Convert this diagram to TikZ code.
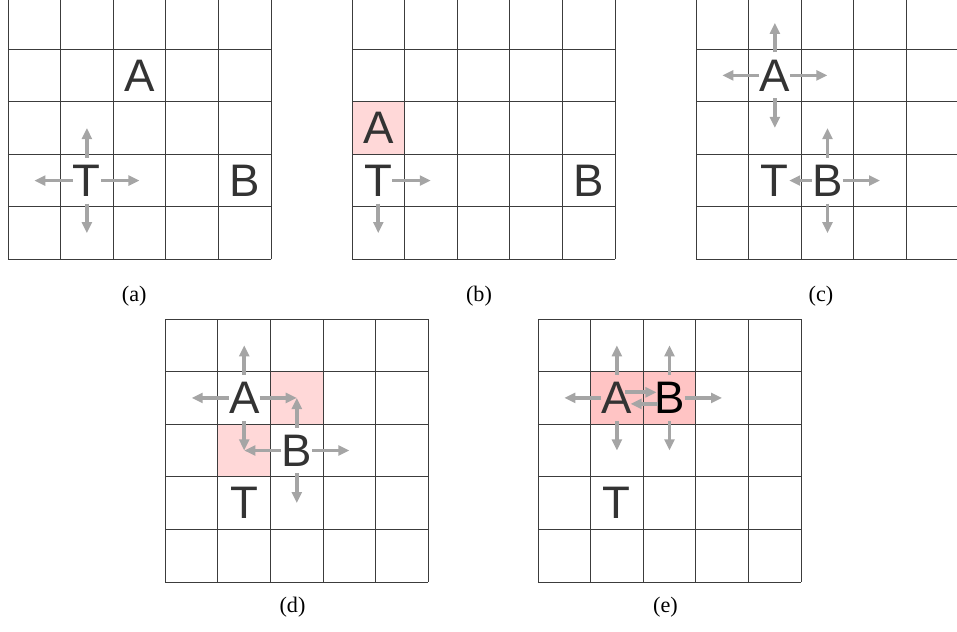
\documentclass[tikz,border=0pt]{standalone}
\usepackage{fontspec}
\setmainfont{Liberation Serif}
\newfontfamily\agentfont{Liberation Sans}
\usetikzlibrary{arrows.meta}

\definecolor{cellpink}{RGB}{255,216,216}
\definecolor{cellpinkdeep}{RGB}{255,196,196}
\definecolor{movegray}{RGB}{165,165,165}
\definecolor{agentgray}{RGB}{51,51,51}
\definecolor{gridgray}{RGB}{60,60,60}

\tikzset{
  gridline/.style={gridgray, line width=0.7pt, step=1.5cm},
  agent/.style={text=agentgray, inner xsep=0pt, inner ysep=0.2cm,
    font=\agentfont\fontsize{37}{40}\selectfont},
  move/.style={movegray, line width=3pt, -{Triangle[length=9pt,width=8pt]}},
  caption/.style={font=\fontsize{18}{21}\selectfont}
}

\begin{document}
\begin{tikzpicture}[x=1.5cm, y=1.5cm]
    \useasboundingbox (0,0) rectangle (18.194,-12.015);
    \clip (0,0) rectangle (18.194,-12.015);

    % (a) T looks around
    \begin{scope}[shift={(0.152,0.067)}]
        \draw[gridline] (0,0) grid (5,-5);
        \node[agent] (aA) at (2.5,-1.5) {A};
        \node[agent] (aT) at (1.5,-3.5) {T};
        \node[agent] (aB) at (4.5,-3.5) {B};
        % moves of T
        \coordinate (aTup) at (1.5,-2.5);
        \coordinate (aTleft) at (0.5,-3.5);
        \coordinate (aTright) at (2.5,-3.5);
        \coordinate (aTdown) at (1.5,-4.5);
        \draw[move] (aT) -- (aTup);
        \draw[move] (aT) -- (aTleft);
        \draw[move] (aT) -- (aTright);
        \draw[move] (aT) -- (aTdown);
        \node[caption] (acap) at (2.4,-5.694) {(a)};
    \end{scope}

    % (b) A next to T
    \begin{scope}[shift={(6.692,0.067)}]
        \fill[cellpink] (0,-2) rectangle (1,-3);
        \draw[gridline] (0,0) grid (5,-5);
        \node[agent] (bA) at (0.5,-2.5) {A};
        \node[agent] (bT) at (0.5,-3.5) {T};
        \node[agent] (bB) at (4.5,-3.5) {B};
        % moves of T
        \coordinate (bTright) at (1.5,-3.5);
        \coordinate (bTdown) at (0.5,-4.5);
        \draw[move] (bT) -- (bTright);
        \draw[move] (bT) -- (bTdown);
        \node[caption] (bcap) at (2.414,-5.694) {(b)};
    \end{scope}

    % (c) A and B look around
    \begin{scope}[shift={(13.232,0.067)}]
        \draw[gridline] (0,0) grid (5,-5);
        \node[agent] (cA) at (1.5,-1.5) {A};
        \node[agent] (cT) at (1.5,-3.5) {T};
        \node[agent] (cB) at (2.5,-3.5) {B};
        % moves of A
        \coordinate (cAup) at (1.5,-0.5);
        \coordinate (cAleft) at (0.5,-1.5);
        \coordinate (cAright) at (2.5,-1.5);
        \coordinate (cAdown) at (1.5,-2.5);
        \draw[move] (cA) -- (cAup);
        \draw[move] (cA) -- (cAleft);
        \draw[move] (cA) -- (cAright);
        \draw[move] (cA) -- (cAdown);
        % moves of B
        \coordinate (cBup) at (2.5,-2.5);
        \coordinate (cBright) at (3.5,-3.5);
        \coordinate (cBdown) at (2.5,-4.5);
        \draw[move] (cB) -- (cBup);
        \draw[move] (cB) -- (cT);
        \draw[move] (cB) -- (cBright);
        \draw[move] (cB) -- (cBdown);
        \node[caption] (ccap) at (2.376,-5.694) {(c)};
    \end{scope}

    % (d) A and B share two cells
    \begin{scope}[shift={(3.143,-6.065)}]
        \fill[cellpink] (2,-1) rectangle (3,-2);
        \fill[cellpink] (1,-2) rectangle (2,-3);
        \draw[gridline] (0,0) grid (5,-5);
        \node[agent] (dA) at (1.5,-1.5) {A};
        \node[agent] (dB) at (2.5,-2.5) {B};
        \node[agent] (dT) at (1.5,-3.5) {T};
        \coordinate (dNE) at (2.5,-1.5);
        \coordinate (dSW) at (1.5,-2.5);
        % moves of A
        \coordinate (dAup) at (1.5,-0.5);
        \coordinate (dAleft) at (0.5,-1.5);
        \draw[move] (dA) -- (dAup);
        \draw[move] (dA) -- (dAleft);
        \draw[move] (dA) -- (dNE);
        \draw[move] (dA) -- (dSW);
        % moves of B
        \coordinate (dBright) at (3.5,-2.5);
        \coordinate (dBdown) at (2.5,-3.5);
        \draw[move] (dB) -- (dNE);
        \draw[move] (dB) -- (dSW);
        \draw[move] (dB) -- (dBright);
        \draw[move] (dB) -- (dBdown);
        \node[caption] (dcap) at (2.418,-5.475) {(d)};
    \end{scope}

    % (e) A and B side by side
    \begin{scope}[shift={(10.228,-6.065)}]
        \fill[cellpinkdeep] (1,-1) rectangle (3,-2);
        \draw[gridline] (0,0) grid (5,-5);
        \node[agent] (eA) at (1.5,-1.5) {A};
        \node[agent, text=black] (eB) at (2.5,-1.5) {B};
        \node[agent] (eT) at (1.5,-3.5) {T};
        % moves of A
        \coordinate (eAup) at (1.5,-0.5);
        \coordinate (eAleft) at (0.5,-1.5);
        \coordinate (eAdown) at (1.5,-2.5);
        \draw[move] (eA) -- (eAup);
        \draw[move] (eA) -- (eAleft);
        \draw[move] (eA) -- (eAdown);
        \draw[move] ([shift={(-0.2cm,0.16cm)}]eA.east) -- ([shift={(0.07cm,0.16cm)}]eB.west);
        % moves of B
        \coordinate (eBup) at (2.5,-0.5);
        \coordinate (eBright) at (3.5,-1.5);
        \coordinate (eBdown) at (2.5,-2.5);
        \draw[move] (eB) -- (eBup);
        \draw[move] (eB) -- (eBright);
        \draw[move] (eB) -- (eBdown);
        \draw[move] ([shift={(0.1cm,-0.17cm)}]eB.west) -- ([shift={(-0.05cm,-0.17cm)}]eA.east);
        \node[caption] (ecap) at (2.424,-5.475) {(e)};
    \end{scope}
\end{tikzpicture}
\end{document}
